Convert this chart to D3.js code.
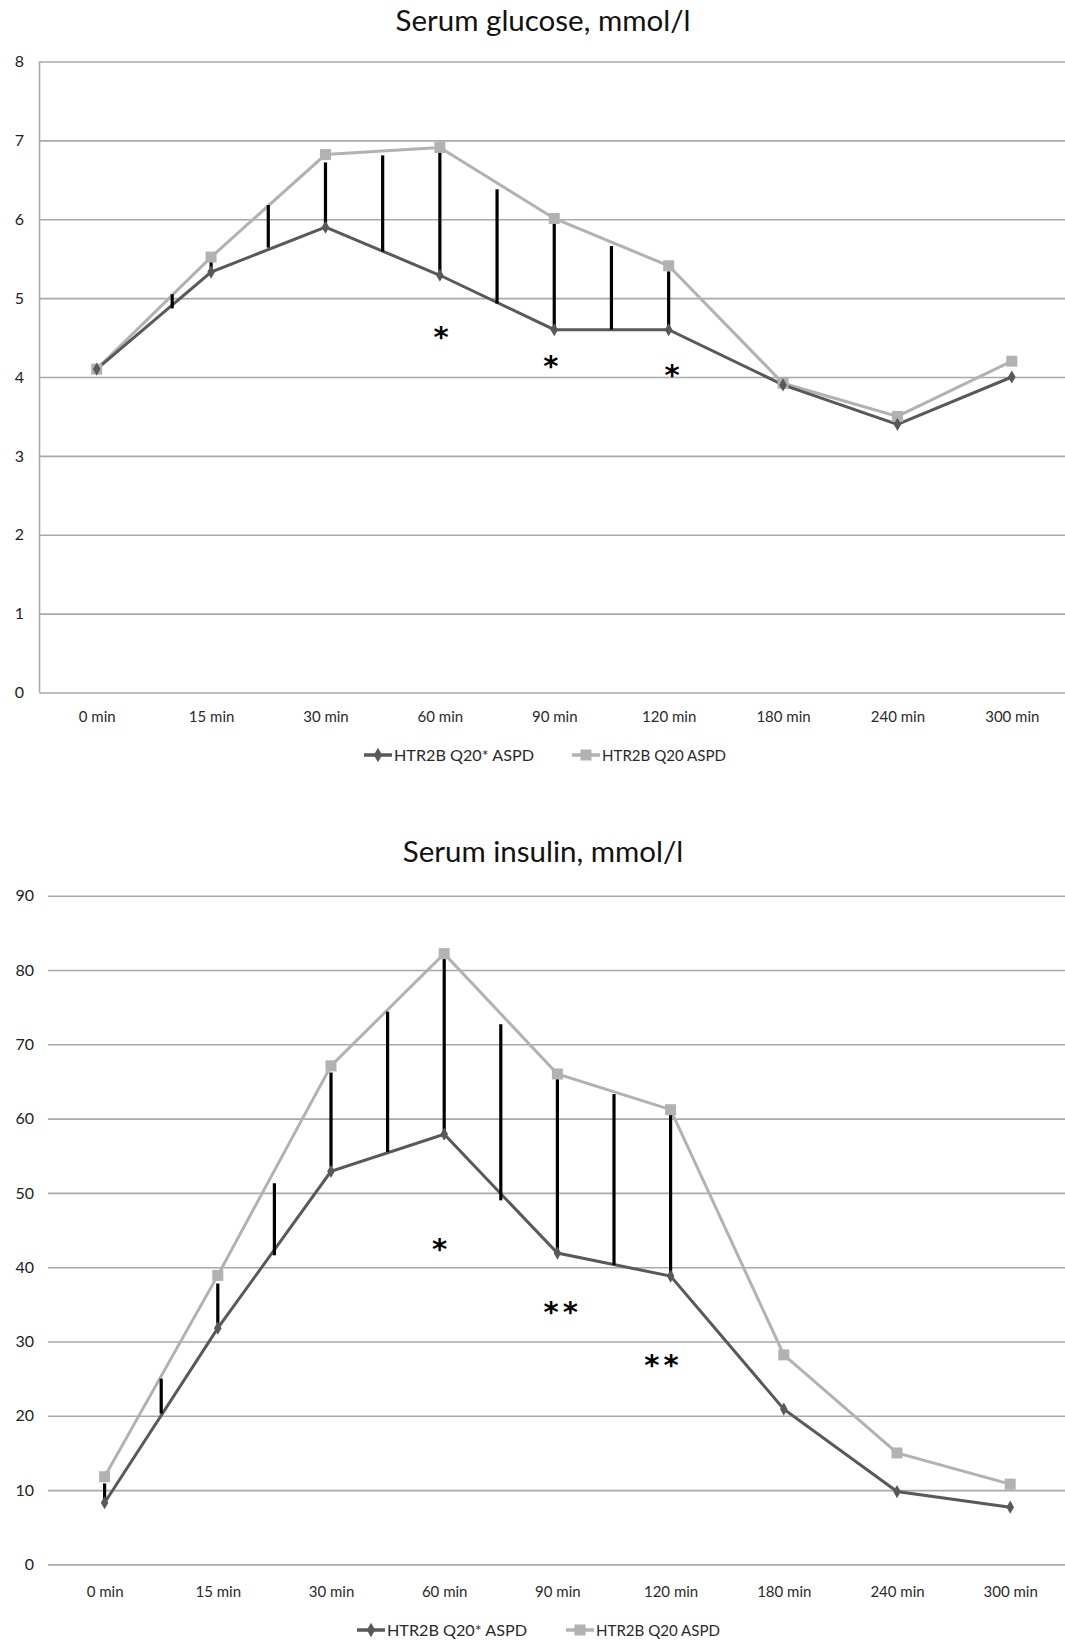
<!DOCTYPE html>
<html>
<head>
<meta charset="utf-8">
<script src="https://cdn.jsdelivr.net/npm/d3@7"></script>
<style>
  body { margin: 0; background: #fff; }
  svg { display: block; font-family: Lato, "Open Sans", sans-serif; }
</style>
</head>
<body>
<svg id="chart" width="1065" height="1640"></svg>
<script>
const categories = ['0 min', '15 min', '30 min', '60 min', '90 min', '120 min', '180 min', '240 min', '300 min'];
const seriesNames = ['HTR2B Q20* ASPD', 'HTR2B Q20 ASPD'];

// glucose panel
const glucoseQ20star = [4.1, 5.33, 5.9, 5.29, 4.6, 4.6, 3.9, 3.4, 4.0];
const glucoseQ20 = [4.1, 5.52, 6.82, 6.91, 6.01, 5.41, 3.92, 3.5, 4.2];
const glucoseBarPos = [0.66, 1, 1.5, 2, 2.5, 3, 3.5, 4, 4.5, 5];
const glucoseBarLow = [4.87, 5.3, 5.64, 5.9, 5.59, 5.28, 4.93, 4.61, 4.6, 4.6];
const glucoseBarHigh = [5.05, 5.5, 6.18, 6.72, 6.81, 6.86, 6.38, 5.96, 5.66, 5.34];
const glucoseStarPos = [3.01, 3.97, 5.03];
const glucoseStarVal = [4.56, 4.19, 4.07];
const glucoseStarText = ['*', '*', '*'];
const glucoseTicks = [0, 1, 2, 3, 4, 5, 6, 7, 8];

// insulin panel
const insulinQ20star = [8.3, 31.8, 52.9, 57.9, 41.9, 38.8, 20.9, 9.8, 7.7];
const insulinQ20 = [11.8, 38.9, 67.1, 82.2, 66.0, 61.2, 28.2, 15.0, 10.8];
const insulinBarPos = [0, 0.5, 1, 1.5, 2, 2.5, 3, 3.5, 4, 4.5, 5];
const insulinBarLow = [8.4, 20.3, 32.4, 41.6, 53.5, 55.5, 58.2, 49.0, 41.9, 40.3, 38.9];
const insulinBarHigh = [10.9, 25.0, 37.8, 51.3, 66.2, 74.4, 81.6, 72.7, 65.4, 63.3, 60.5];
const insulinStarPos = [2.96, 4.03, 4.92];
const insulinStarVal = [43, 34.5, 27.4];
const insulinStarText = ['*', '**', '**'];
const insulinTicks = [0, 10, 20, 30, 40, 50, 60, 70, 80, 90];

const darkColor = '#595959';
const lightColor = '#b2b2b2';
const gridColor = '#a9a9a9';

const svg = d3.select('#chart');

function drawPanel(p) {
  const g = svg.append('g');
  const x = d3.scaleLinear().domain([-0.5, 8.5]).range([p.left, p.right]);
  const y = d3.scaleLinear().domain([0, p.ticks[p.ticks.length - 1]]).range([p.bottom, p.top]);

  g.append('text')
    .attr('x', p.titleX).attr('y', p.titleY)
    .attr('text-anchor', 'middle')
    .attr('font-size', 29.5).attr('fill', '#111')
    .text(p.title);

  // gridlines + y labels
  const yAxis = g.append('g')
    .attr('transform', `translate(${p.left},0)`)
    .call(d3.axisLeft(y).tickValues(p.ticks).tickSize(-(1065 - p.left)).tickPadding(0).tickFormat(d3.format('d')));
  yAxis.select('.domain').remove();
  yAxis.selectAll('.tick line').attr('stroke', gridColor).attr('stroke-width', 1.6);
  yAxis.selectAll('.tick text')
    .attr('x', p.yLabelX - p.left)
    .attr('text-anchor', 'end')
    .attr('font-size', 16).attr('fill', '#222')
    .attr('font-family', 'Lato, sans-serif');

  if (p.leftLine) {
    g.append('line')
      .attr('x1', p.left).attr('x2', p.left)
      .attr('y1', p.top).attr('y2', p.bottom)
      .attr('stroke', gridColor).attr('stroke-width', 1.6);
  }

  // x labels
  const xAxis = g.append('g')
    .attr('transform', `translate(0,${p.bottom})`)
    .call(d3.axisBottom(x).tickValues(d3.range(categories.length)).tickSize(0).tickFormat(i => categories[i]));
  xAxis.select('.domain').remove();
  xAxis.selectAll('.tick text')
    .attr('y', p.xLabelDy).attr('dy', 0)
    .attr('font-size', 15).attr('fill', '#2a2a2a')
    .attr('font-family', 'Lato, sans-serif');

  const line = d3.line().x((d, i) => x(i)).y(d => y(d));

  g.append('path').datum(p.light)
    .attr('d', line).attr('fill', 'none')
    .attr('stroke', lightColor).attr('stroke-width', 3);
  g.append('path').datum(p.dark)
    .attr('d', line).attr('fill', 'none')
    .attr('stroke', darkColor).attr('stroke-width', 3);

  // difference bars
  g.selectAll('.bar').data(p.barPos).join('line')
    .attr('x1', d => x(d)).attr('x2', d => x(d))
    .attr('y1', (d, i) => y(p.barLow[i]))
    .attr('y2', (d, i) => y(p.barHigh[i]))
    .attr('stroke', '#000').attr('stroke-width', 3.2);

  g.selectAll('.sq').data(p.light).join('rect')
    .attr('x', (d, i) => x(i) - 5.5).attr('y', d => y(d) - 5.5)
    .attr('width', 11).attr('height', 11)
    .attr('fill', lightColor);
  g.selectAll('.dm').data(p.dark).join('path')
    .attr('d', d3.symbol(d3.symbolDiamond, 50))
    .attr('transform', (d, i) => `translate(${x(i)},${y(d)})`)
    .attr('fill', darkColor);

  // significance marks; +2 offsets the trailing letter-spacing
  g.selectAll('.star').data(p.starPos).join('text')
    .attr('x', d => x(d) + 2)
    .attr('y', (d, i) => y(p.starVal[i]) + 14)
    .attr('text-anchor', 'middle')
    .attr('font-size', 29).attr('font-weight', 'bold').attr('fill', '#000')
    .attr('font-family', 'DejaVu Sans, sans-serif')
    .attr('letter-spacing', 4)
    .text((d, i) => p.starText[i]);

  // legend
  const lg = g.append('g').attr('transform', `translate(0,${p.legendY})`);
  const items = [
    { x: p.legendX[0], color: darkColor, shape: 'diamond', name: seriesNames[0], w: 140 },
    { x: p.legendX[1], color: lightColor, shape: 'square', name: seriesNames[1], w: 124 }
  ];
  items.forEach(it => {
    lg.append('line')
      .attr('x1', it.x).attr('x2', it.x + 28)
      .attr('stroke', it.color).attr('stroke-width', 3.5);
    if (it.shape === 'diamond') {
      lg.append('path').attr('d', d3.symbol(d3.symbolDiamond, 60))
        .attr('transform', `translate(${it.x + 14},0)`).attr('fill', it.color);
    } else {
      lg.append('rect').attr('x', it.x + 8.5).attr('y', -5.5)
        .attr('width', 11).attr('height', 11).attr('fill', it.color);
    }
    lg.append('text')
      .attr('x', it.x + 30).attr('y', 6)
      .attr('font-size', 16).attr('fill', '#2a2a2a')
      .attr('textLength', it.w).attr('lengthAdjust', 'spacingAndGlyphs')
      .text(it.name);
  });
}

drawPanel({
  title: 'Serum glucose, mmol/l', titleX: 543, titleY: 31,
  left: 39.5, right: 1069, top: 61.5, bottom: 692.5,
  ticks: glucoseTicks, yLabelX: 24, leftLine: true, xLabelDy: 29,
  dark: glucoseQ20star, light: glucoseQ20,
  barPos: glucoseBarPos, barLow: glucoseBarLow, barHigh: glucoseBarHigh,
  starPos: glucoseStarPos, starVal: glucoseStarVal, starText: glucoseStarText,
  legendY: 755, legendX: [364, 572]
});

drawPanel({
  title: 'Serum insulin, mmol/l', titleX: 543, titleY: 862,
  left: 48, right: 1066.8, top: 895.7, bottom: 1564.4,
  ticks: insulinTicks, yLabelX: 34, leftLine: false, xLabelDy: 33,
  dark: insulinQ20star, light: insulinQ20,
  barPos: insulinBarPos, barLow: insulinBarLow, barHigh: insulinBarHigh,
  starPos: insulinStarPos, starVal: insulinStarVal, starText: insulinStarText,
  legendY: 1630, legendX: [357, 566]
});
</script>
</body>
</html>
